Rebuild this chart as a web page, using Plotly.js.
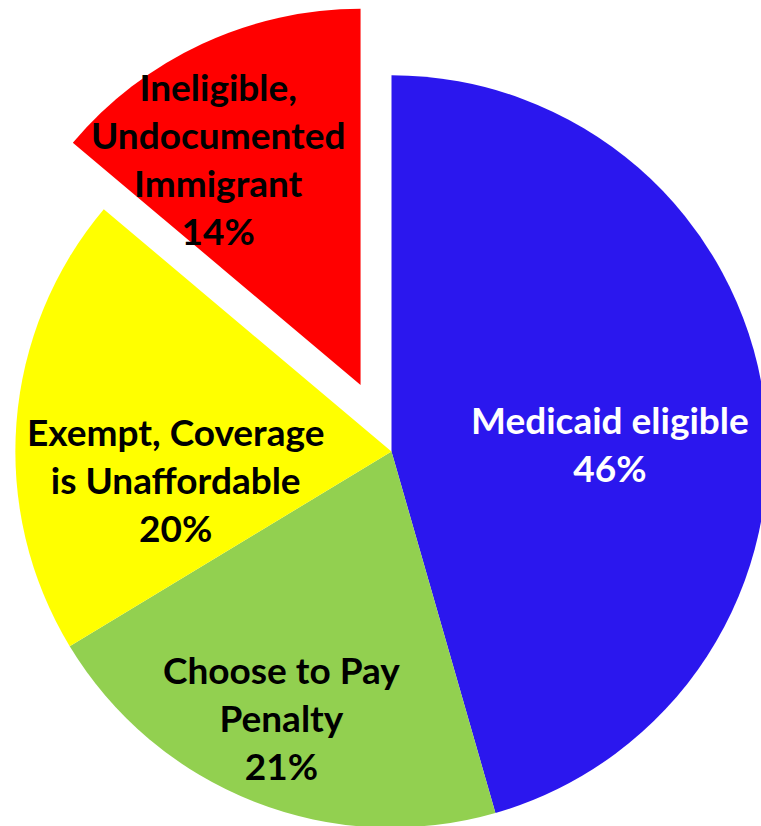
<!DOCTYPE html>
<html>
<head>
<meta charset="utf-8">
<script src="https://cdn.plot.ly/plotly-3.0.1.min.js"></script>
<style>
html, body { margin: 0; padding: 0; overflow: hidden; width: 761px; height: 826px; background: #fff; }
#chart { position: absolute; left: -58px; top: 2px; width: 899px; height: 899px; }
</style>
</head>
<body>
<div id="chart"></div>
<script>
const categories = [
  "Medicaid eligible",
  "Choose to Pay<br>Penalty",
  "Exempt, Coverage<br>is Unaffordable",
  "Ineligible,<br>Undocumented<br>Immigrant"
];
const values = [46, 21, 20, 14];
const percentLabels = ["46%", "21%", "20%", "14%"];
const colors = ["#2b17ee", "#92d050", "#ffff00", "#ff0000"];
const pulls = [0, 0, 0, 0.195];
const textColors = ["#ffffff", "#000000", "#000000", "#000000"];

// label placement relative to pie centre, in units of pie radius (layout only)
const labelOffsets = [[0.580, 0.022], [-0.293, -0.707], [-0.574, -0.075], [-0.460, 0.779]];

const W = 899, H = 899;
const maxPull = Math.max(...pulls);
const R = Math.min(W, H) / 2 / (1 + maxPull);

const trace = {
  type: "pie",
  values: values,
  labels: categories,
  textinfo: "none",
  sort: false,
  direction: "clockwise",
  rotation: 0,
  pull: pulls,
  marker: { colors: colors, line: { width: 0 } },
  hoverinfo: "none",
  domain: { x: [0, 1], y: [0, 1] }
};

const annotations = categories.map((c, i) => ({
  xref: "paper", yref: "paper",
  x: 0.5 + labelOffsets[i][0] * R / W,
  y: 0.5 + labelOffsets[i][1] * R / H,
  xanchor: "center", yanchor: "middle",
  align: "center",
  showarrow: false,
  text: c + "<br>" + percentLabels[i],
  font: { family: "Lato, 'Open Sans', sans-serif", size: 37, color: textColors[i], weight: "bold" }
}));

const layout = {
  width: W,
  height: H,
  margin: { l: 0, r: 0, t: 0, b: 0 },
  showlegend: false,
  paper_bgcolor: "rgba(0,0,0,0)",
  plot_bgcolor: "rgba(0,0,0,0)",
  annotations: annotations
};

Plotly.newPlot("chart", [trace], layout, { staticPlot: true, displayModeBar: false });
</script>
</body>
</html>
